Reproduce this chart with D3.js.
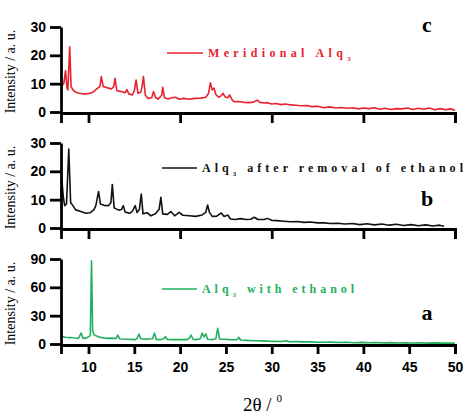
<!DOCTYPE html>
<html lang="en">
<head>
<meta charset="UTF-8">
<title>Alq3 XRD patterns</title>
<script src="https://d3js.org/d3.v7.min.js"></script>
<style>
    body { margin: 0; background: #fff; }
    svg { display: block; }
    .tick text { font-family: "Liberation Sans", Arial, sans-serif; font-weight: bold; font-size: 14px; fill: #000; }
    .axis path, .axis line { stroke: #000; stroke-width: 2.8; }
    .ylab { font-family: "Liberation Serif", serif; font-size: 14px; }
    .legend { font-family: "Liberation Serif", serif; font-weight: bold; font-size: 12px; }
    .panel-tag { font-family: "Liberation Serif", serif; font-weight: bold; font-size: 22px; }
</style>
</head>
<body>
<svg id="chart" width="470" height="414"></svg>
<script>
// 2-theta values and intensities
const xMeridional = [7.0, 7.3, 7.5, 7.65, 7.75, 7.95, 8.1, 8.3, 8.6, 9.0, 9.5, 10.0, 10.5, 11.0, 11.25, 11.4, 11.6, 12.0, 12.5, 12.75, 12.9, 13.1, 13.6, 14.0, 14.2, 14.4, 14.8, 15.0, 15.2, 15.4, 15.7, 15.85, 16.0, 16.2, 16.5, 16.9, 17.1, 17.3, 17.6, 18.0, 18.1, 18.3, 18.7, 19.1, 19.5, 19.9, 20.4, 21.0, 21.6, 22.3, 22.8, 23.1, 23.3, 23.5, 23.7, 23.9, 24.2, 24.5, 24.7, 24.9, 25.2, 25.4, 25.7, 25.9, 26.4, 27.0, 27.5, 28.0, 28.4, 28.7, 29.2, 29.5, 30.0, 30.5, 31.0, 31.5, 32.1, 32.6, 33.2, 33.8, 34.4, 35.0, 35.7, 36.3, 37.0, 37.6, 38.2, 38.8, 39.5, 40.0, 40.6, 41.2, 41.8, 42.4, 43.0, 43.6, 44.2, 44.8, 45.4, 46.0, 46.6, 47.2, 47.8, 48.4, 49.0, 49.5, 50.0];
const yMeridional = [9.0, 10.0, 14.6, 8.5, 7.8, 23.0, 9.0, 7.8, 7.0, 6.6, 6.4, 6.5, 7.0, 8.4, 9.0, 12.5, 9.0, 8.6, 8.1, 9.0, 11.9, 7.5, 7.2, 6.8, 7.9, 6.4, 6.0, 7.5, 11.3, 6.6, 7.0, 9.0, 12.5, 6.0, 4.8, 5.0, 7.2, 5.2, 4.5, 6.0, 8.7, 5.0, 4.6, 5.0, 5.2, 4.5, 4.8, 4.5, 4.8, 4.9, 5.2, 6.5, 10.3, 7.8, 8.4, 6.2, 5.2, 5.8, 6.6, 5.3, 5.0, 6.0, 4.2, 3.6, 3.7, 3.4, 3.3, 3.5, 4.2, 3.4, 3.2, 3.3, 2.8, 3.0, 2.6, 2.8, 2.5, 2.4, 2.2, 2.3, 1.9, 2.0, 1.5, 1.8, 1.4, 1.6, 1.3, 1.5, 1.1, 1.4, 1.2, 1.5, 1.0, 1.3, 0.9, 1.2, 1.1, 1.4, 0.9, 1.3, 1.0, 1.4, 0.8, 1.2, 0.8, 1.1, 0.6];

const xRemoved = [7.0, 7.1, 7.25, 7.4, 7.6, 7.85, 8.05, 8.3, 8.6, 9.0, 9.7, 10.2, 10.6, 10.8, 11.1, 11.3, 11.7, 12.2, 12.45, 12.6, 12.8, 13.3, 13.6, 13.8, 14.0, 14.5, 14.8, 15.1, 15.3, 15.55, 15.76, 15.95, 16.4, 16.8, 17.3, 17.7, 17.9, 18.1, 18.6, 19.0, 19.4, 19.9, 20.3, 21.0, 21.7, 22.4, 22.8, 23.0, 23.2, 23.5, 24.0, 24.5, 24.8, 25.2, 25.5, 26.0, 26.6, 27.2, 27.7, 28.1, 28.5, 29.2, 29.5, 30.0, 30.6, 31.3, 32.1, 32.8, 33.5, 34.2, 35.0, 35.7, 36.4, 37.2, 38.0, 38.8, 39.6, 40.4, 41.2, 42.0, 42.8, 43.6, 44.4, 45.2, 46.0, 46.8, 47.6, 48.3, 48.8];
const yRemoved = [10.2, 16.7, 11.0, 7.9, 8.5, 27.9, 9.0, 7.9, 6.4, 6.0, 5.2, 5.4, 6.5, 7.9, 12.9, 8.5, 8.0, 7.9, 9.0, 15.3, 7.1, 6.3, 6.5, 7.9, 5.6, 5.2, 6.0, 7.9, 5.5, 6.5, 12.0, 5.0, 5.4, 4.3, 5.0, 6.5, 10.8, 5.0, 4.8, 5.8, 4.3, 5.5, 4.5, 4.3, 4.1, 4.6, 5.5, 8.1, 5.5, 4.1, 4.2, 5.3, 4.1, 4.6, 3.2, 3.0, 3.3, 3.0, 3.1, 3.8, 3.0, 3.0, 3.4, 2.7, 2.6, 2.4, 2.2, 2.3, 2.0, 2.1, 1.8, 1.8, 1.6, 1.7, 1.4, 1.6, 1.2, 1.5, 1.1, 1.4, 1.0, 1.3, 0.9, 1.2, 0.8, 1.1, 0.7, 1.0, 0.6];

const xEthanol = [7.0, 7.5, 8.0, 8.5, 8.9, 9.2, 9.4, 9.8, 10.05, 10.2, 10.33, 10.45, 10.6, 10.8, 11.3, 11.9, 12.5, 13.0, 13.2, 13.4, 13.6, 14.2, 15.1, 15.3, 15.5, 15.7, 16.3, 17.0, 17.2, 17.4, 17.8, 18.2, 18.4, 18.6, 19.2, 20.0, 20.7, 21.0, 21.2, 21.4, 21.7, 22.2, 22.4, 22.6, 22.8, 23.0, 23.5, 23.9, 24.1, 24.3, 24.8, 25.5, 26.2, 26.4, 26.6, 27.3, 28.0, 28.4, 29.0, 29.6, 30.4, 31.1, 31.6, 31.9, 32.6, 33.3, 34.1, 34.8, 35.7, 36.5, 37.3, 38.1, 39.0, 39.8, 40.6, 41.4, 42.2, 43.0, 43.8, 44.6, 45.4, 46.2, 47.0, 47.8, 48.6, 49.4, 50.0];
const yEthanol = [8.1, 7.1, 6.8, 6.3, 6.0, 11.6, 6.0, 6.5, 8.0, 9.0, 88.0, 14.0, 10.0, 8.8, 7.0, 6.0, 6.2, 5.8, 9.5, 5.5, 5.3, 5.0, 4.6, 6.0, 10.6, 5.5, 5.2, 5.5, 11.6, 4.8, 4.6, 5.5, 7.8, 4.8, 4.6, 4.8, 4.6, 6.0, 9.5, 5.0, 4.6, 5.5, 11.6, 7.5, 10.6, 5.0, 4.6, 5.5, 16.6, 5.3, 5.0, 4.6, 4.5, 7.1, 4.2, 3.8, 3.5, 3.5, 3.3, 3.0, 2.8, 2.6, 3.5, 2.4, 2.5, 2.2, 2.4, 2.0, 1.8, 2.0, 1.6, 1.8, 1.4, 1.7, 1.3, 1.6, 1.2, 1.5, 1.1, 1.4, 1.0, 1.3, 0.9, 1.2, 0.9, 1.1, 0.8];

const xDomain = [7, 50];
const yTicksSmall = [0, 10, 20, 30];
const yTicksLarge = [0, 30, 60, 90];
const xTicksMajor = [10, 20, 30, 40, 50];
const xTicksAll = [10, 15, 20, 25, 30, 35, 40, 45, 50];

const panels = [
    { tag: "c", name: "Meridional Alq", tail: "", color: "#e8222d", xs: xMeridional, ys: yMeridional,
      yMax: 30, yTicks: yTicksSmall, top: 27, bottom: 112, legY: 53, legX0: 167, legX1: 203, legEnd: 355, tagY: 32 },
    { tag: "b", name: "Alq", tail: " after removal of ethanol", color: "#111111", xs: xRemoved, ys: yRemoved,
      yMax: 30, yTicks: yTicksSmall, top: 143, bottom: 228, legY: 168, legX0: 162, legX1: 197, legEnd: 467, tagY: 206 },
    { tag: "a", name: "Alq", tail: " with ethanol", color: "#22b05e", xs: xEthanol, ys: yEthanol,
      yMax: 90, yTicks: yTicksLarge, top: 259, bottom: 344, legY: 289, legX0: 162, legX1: 197, legEnd: 358, tagY: 320 }
];

const svg = d3.select("#chart");
const x = d3.scaleLinear().domain(xDomain).range([61, 455]);

panels.forEach((p, i) => {
    const y = d3.scaleLinear().domain([0, p.yMax]).range([p.bottom, p.top]);
    const last = i === panels.length - 1;

    // curve
    const pts = p.xs.map((v, k) => [v, p.ys[k]]);
    svg.append("path")
        .datum(pts)
        .attr("fill", "none")
        .attr("stroke", p.color)
        .attr("stroke-width", 1.6)
        .attr("stroke-linejoin", "round")
        .attr("d", d3.line().x(d => x(d[0])).y(d => y(d[1])));

    // axes
    svg.append("g")
        .attr("class", "axis")
        .attr("transform", `translate(61,0)`)
        .call(d3.axisLeft(y).tickValues(p.yTicks).tickSize(11).tickSizeOuter(0).tickPadding(4));

    const xa = d3.axisBottom(x).tickSizeOuter(0);
    if (last) xa.tickValues(xTicksAll).tickSize(9).tickPadding(8);
    else xa.tickValues(xTicksMajor).tickSize(10).tickFormat("");
    svg.append("g")
        .attr("class", "axis")
        .attr("transform", `translate(0,${p.bottom + 1})`)
        .call(xa);

    // y label
    svg.append("text")
        .attr("class", "ylab")
        .attr("transform", `translate(15,${(p.top + p.bottom) / 2 + 2}) rotate(-90)`)
        .attr("text-anchor", "middle")
        .text("Intensity / a. u.");

    // legend
    svg.append("line")
        .attr("x1", p.legX0).attr("x2", p.legX1)
        .attr("y1", p.legY).attr("y2", p.legY)
        .attr("stroke", p.color).attr("stroke-width", 1.6);
    const x0 = p.legX1 + 5;
    const t = svg.append("text")
        .attr("class", "legend")
        .attr("x", x0)
        .attr("y", p.legY + 4)
        .attr("fill", p.color);
    t.append("tspan").text(p.name);
    t.append("tspan").attr("dy", 4).attr("font-size", 7).text("3");
    t.append("tspan").attr("dy", -4).text(p.tail);

    // spread the letters so the legend spans the same width as in the figure
    const nChars = (p.name + "3" + p.tail).length;
    let ls = 4;
    for (let k = 0; k < 3; k++) {
        t.style("letter-spacing", ls + "px");
        const b = t.node().getBBox();
        ls += (p.legEnd - (b.x + b.width)) / nChars;
    }
    t.style("letter-spacing", ls + "px");

    svg.append("text")
        .attr("class", "panel-tag")
        .attr("x", 427).attr("y", p.tagY)
        .attr("text-anchor", "middle")
        .text(p.tag);
});

// x axis title
const xt = svg.append("text")
    .attr("x", 243).attr("y", 411)
    .attr("font-family", "Liberation Serif, serif")
    .attr("font-size", 19);
xt.append("tspan").text("2θ / ");
xt.append("tspan").attr("dy", -9).attr("font-size", 11).text("0");
</script>
</body>
</html>
